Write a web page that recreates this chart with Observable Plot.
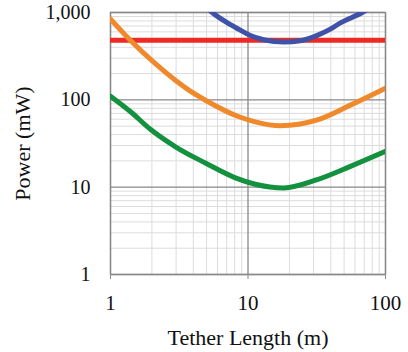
<!DOCTYPE html>
<html><head><meta charset="utf-8">
<script src="https://cdn.jsdelivr.net/npm/d3@7"></script>
<script src="https://cdn.jsdelivr.net/npm/@observablehq/plot@0.6"></script>
<style>body{margin:0;background:#fff} svg text{font-family:"Liberation Serif","DejaVu Serif",serif !important;}</style>
</head><body><div id="chart"></div>
<script>
const redL = [1, 100];
const redV = [480, 480];
const blueL = [5.2, 5.5, 7, 8.6, 10.4, 13, 18.2, 24, 31.9, 40, 47, 67.6, 72];
const blueV = [1080, 1000, 770, 640, 545, 488, 458, 475, 548, 650, 760, 1000, 1060];
const orangeL = [1, 1.4, 2.12, 3.71, 4.9, 8.6, 11.3, 17.2, 31.9, 55.6, 100];
const orangeV = [840, 477, 259, 129, 99, 64, 56, 50.5, 58.8, 87, 136];
const greenL = [1, 1.4, 1.95, 2.97, 4.9, 8.1, 11.3, 18.2, 31.9, 55.6, 100];
const greenV = [110, 73, 46, 29, 18.9, 12.8, 10.8, 9.8, 12.2, 17.3, 25.7];
const xTicks = [1, 10, 100];
const xTickLabels = ["1", "10", "100"];
const yTicks = [1, 10, 100, 1000];
const yTickLabels = ["1", "10", "100", "1,000"];
const xMinor = [2,3,4,5,6,7,8,9,20,30,40,50,60,70,80,90];
const yMinor = [2,3,4,5,6,7,8,9,20,30,40,50,60,70,80,90,200,300,400,500,600,700,800,900];

const toRows = (L, V) => L.map((l, i) => ({l, v: V[i]}));
const lineOpts = {x: "l", y: "v", strokeWidth: 5, curve: "monotone-x", clip: true};

const chart = Plot.plot({
  width: 408, height: 352,
  marginLeft: 110, marginRight: 23, marginTop: 12, marginBottom: 78,
  style: {fontFamily: "'Liberation Serif', serif", fontSize: "21px", color: "#111", background: "#fff"},
  x: {type: "log", domain: [1, 100]},
  y: {type: "log", domain: [1, 1000]},
  marks: [
    Plot.ruleX(xMinor, {stroke: "#dcdcdc", strokeWidth: 1}),
    Plot.ruleY(yMinor, {stroke: "#dcdcdc", strokeWidth: 1}),
    Plot.ruleX(xTicks, {stroke: "#888", strokeWidth: 1.3}),
    Plot.ruleY(yTicks, {stroke: "#888", strokeWidth: 1.3}),
    Plot.frame({stroke: "#888", strokeWidth: 1.3}),
    Plot.axisX({ticks: xTicks, tickFormat: d => xTickLabels[xTicks.indexOf(d)], tickSize: 5, tickPadding: 16, stroke: "#888", fill: "#111", fontSize: 21, label: null}),
    Plot.axisX({ticks: [], label: "Tether Length (m)", labelAnchor: "center", labelArrow: "none", labelOffset: 70, fontSize: 22, fill: "#111"}),
    Plot.axisY({ticks: yTicks, tickFormat: d => yTickLabels[yTicks.indexOf(d)], tickSize: 0, tickPadding: 20, fill: "#111", fontSize: 20, label: null}),
    Plot.axisY({ticks: [], label: "Power (mW)", labelAnchor: "center", labelArrow: "none", labelOffset: 96, fontSize: 22, fill: "#111"}),
    Plot.line(toRows(redL, redV), {...lineOpts, stroke: "#ee2a24", curve: "linear"}),
    Plot.line(toRows(orangeL, orangeV), {...lineOpts, stroke: "#f0892b"}),
    Plot.line(toRows(greenL, greenV), {...lineOpts, stroke: "#14913f"}),
    Plot.line(toRows(blueL, blueV), {...lineOpts, stroke: "#3f52a8"})
  ]
});
document.getElementById("chart").appendChild(chart);
</script></body></html>
